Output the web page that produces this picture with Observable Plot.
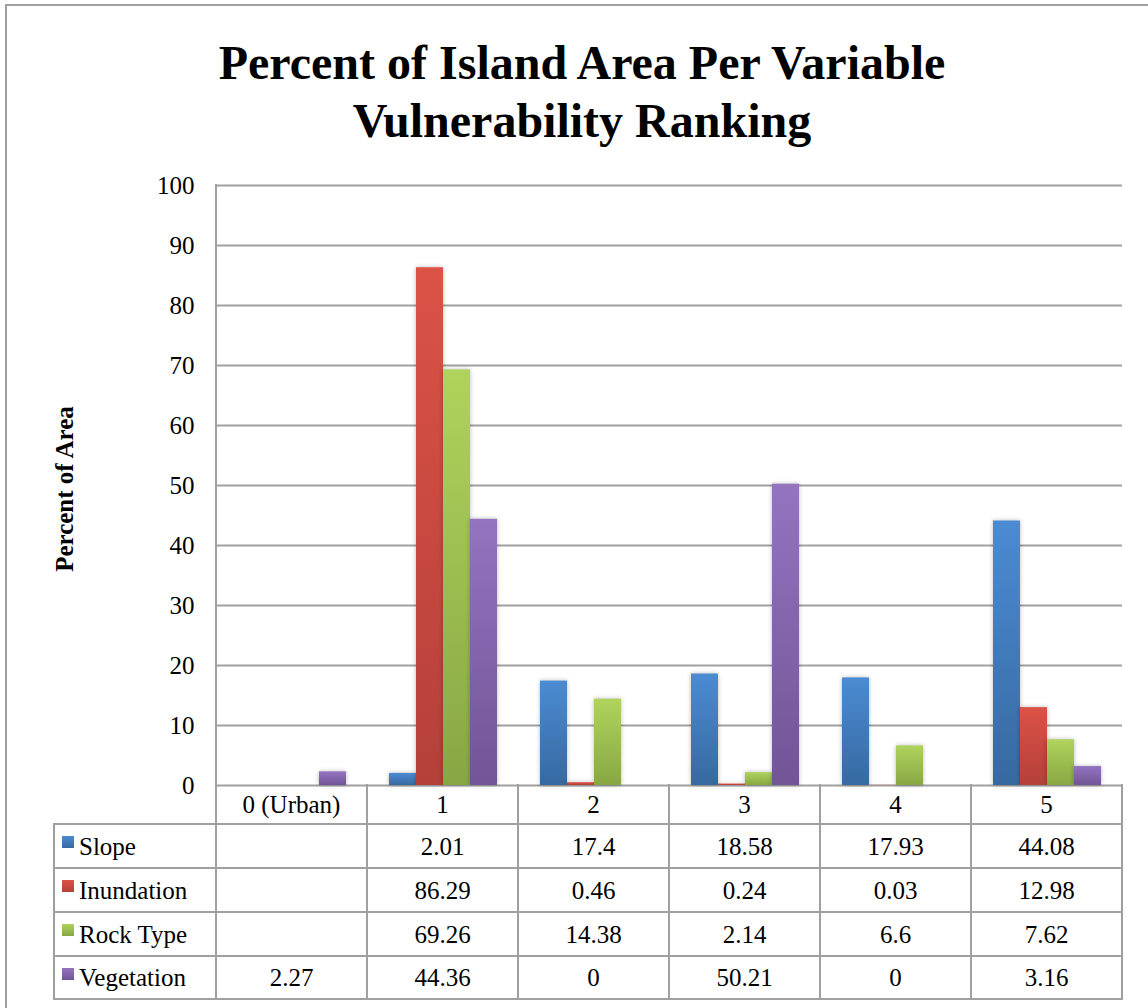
<!DOCTYPE html>
<html><head><meta charset="utf-8">
<script src="https://cdn.jsdelivr.net/npm/d3@7"></script>
<script src="https://cdn.jsdelivr.net/npm/@observablehq/plot@0.6"></script>
<style>
body{margin:0;background:#fff;overflow:hidden}
#wrap{position:relative;width:1148px;height:1008px;overflow:hidden;font-family:'Liberation Serif',serif;color:#000;background:#fff}
#wrap *{font-family:'Liberation Serif',serif}
#frame{position:absolute;left:5px;top:4px;width:1300px;height:1200px;border-left:2px solid #a0a0a0;border-top:2px solid #a0a0a0}
#title{position:absolute;left:0;top:34px;width:1164px;text-align:center;font-weight:bold;font-size:48px;line-height:58px}
#ylabel{position:absolute;left:65px;top:489px;transform:translate(-50%,-50%) rotate(-90deg);font-weight:bold;font-size:25px;white-space:nowrap}
.hl{position:absolute;height:2px;background:#a0a0a0}
.vl{position:absolute;width:2px;background:#a0a0a0}
.cell{position:absolute;font-size:25px;line-height:25px;display:flex;align-items:center;justify-content:center;white-space:nowrap;font-weight:normal}
.lab{position:absolute;font-size:25px;line-height:25px;display:flex;align-items:center;white-space:nowrap;font-weight:normal}
.sw{display:inline-block;width:12px;height:12px;margin-right:5px;position:relative;top:-4px}
svg{position:absolute;left:0;top:0}
svg text{font-family:'Liberation Serif',serif}
</style></head>
<body><div id="wrap"><div id="frame"></div></div>
<script>
const ranks = ["0 (Urban)", "1", "2", "3", "4", "5"];
const series = ["Slope", "Inundation", "Rock Type", "Vegetation"];
const slope = [null, 2.01, 17.4, 18.58, 17.93, 44.08];
const inundation = [null, 86.29, 0.46, 0.24, 0.03, 12.98];
const rockType = [null, 69.26, 14.38, 2.14, 6.6, 7.62];
const vegetation = [2.27, 44.36, 0, 50.21, 0, 3.16];
const yTicks = [0, 10, 20, 30, 40, 50, 60, 70, 80, 90, 100];
const colorTop = ["#4b8bd3", "#dc5246", "#afd35c", "#9473c0"];
const colorBottom = ["#3769a0", "#b4403a", "#88a744", "#715596"];
const titleLines = ["Percent of Island Area Per Variable", "Vulnerability Ranking"];
const yLabel = "Percent of Area";

const values = [slope, inundation, rockType, vegetation];
const rows = [];
ranks.forEach((r, i) => series.forEach((s, j) => {
  const v = values[j][i];
  if (v != null) rows.push({rank: r, series: s, value: v});
}));

const wrap = document.getElementById("wrap");

const plot = Plot.plot({
  width: 1148, height: 790,
  marginLeft: 215, marginRight: 26, marginTop: 185, marginBottom: 5,
  style: {fontFamily: "'Liberation Serif', serif", fontSize: "25px", color: "#000", background: "transparent", overflow: "visible"},
  fx: {domain: ranks, padding: 0, axis: null},
  x: {domain: series, paddingInner: 0, paddingOuter: 0.7, axis: null},
  y: {domain: [0, 100], axis: null},
  color: {domain: series, range: series.map((s, i) => `url(#grad${i})`)},
  marks: [
    Plot.gridY(yTicks, {stroke: "#a0a0a0", strokeOpacity: 1, strokeWidth: 2}),
    Plot.axisY(yTicks, {tickSize: 0, tickPadding: 22, label: null, fontSize: 25, fill: "#000"}),
    Plot.barY(rows, {fx: "rank", x: "series", y: "value", fill: "series"})
  ]
});
wrap.appendChild(plot);

const defs = d3.select(plot).insert("defs", ":first-child");
series.forEach((s, i) => {
  const g = defs.append("linearGradient").attr("id", `grad${i}`).attr("x1", 0).attr("y1", 0).attr("x2", 0).attr("y2", 1);
  g.append("stop").attr("offset", "0%").attr("stop-color", colorTop[i]);
  g.append("stop").attr("offset", "100%").attr("stop-color", colorBottom[i]);
});
d3.select(plot).selectAll("g[aria-label=bar] rect").style("filter", "drop-shadow(0px 0px 2px rgba(0,0,0,0.28))");

const title = document.createElement("div");
title.id = "title";
title.innerHTML = titleLines.join("<br>");
wrap.appendChild(title);
const yl = document.createElement("div");
yl.id = "ylabel";
yl.textContent = yLabel;
wrap.appendChild(yl);

const fxS = plot.scale("fx");
const yS = plot.scale("y");
const edges = ranks.map(r => fxS.apply(r));
edges.push(edges[edges.length - 1] + fxS.bandwidth);
const left = 54;
const top0 = yS.apply(0);
const rowY = [top0, top0 + 39, top0 + 83, top0 + 127, top0 + 171, top0 + 214];
const plotTop = yS.apply(100);

function line(cls, x, y, w, h) {
  const d = document.createElement("div");
  d.className = cls;
  d.style.left = (x - 1) + "px"; d.style.top = (y - 1) + "px";
  if (cls === "hl") d.style.width = (w + 2) + "px"; else d.style.height = (h + 2) + "px";
  wrap.appendChild(d);
}
line("vl", edges[0], plotTop, 0, top0 - plotTop);
for (let k = 1; k < rowY.length; k++) line("hl", left, rowY[k], edges[edges.length - 1] - left, 0);
line("vl", left, rowY[1], 0, rowY[5] - rowY[1]);
edges.forEach(x => line("vl", x, rowY[0], 0, rowY[5] - rowY[0]));

function cell(text, x0, x1, y0, y1) {
  const d = document.createElement("div");
  d.className = "cell";
  d.style.left = x0 + "px"; d.style.width = (x1 - x0) + "px";
  d.style.top = y0 + "px"; d.style.height = (y1 - y0) + "px";
  d.textContent = text;
  wrap.appendChild(d);
}
ranks.forEach((r, i) => cell(r, edges[i], edges[i + 1], rowY[0], rowY[1]));
series.forEach((s, j) => {
  const y0 = rowY[j + 1], y1 = rowY[j + 2];
  const lab = document.createElement("div");
  lab.className = "lab";
  lab.style.left = (left + 8) + "px"; lab.style.top = y0 + "px"; lab.style.height = (y1 - y0) + "px";
  const sw = document.createElement("span");
  sw.className = "sw";
  sw.style.background = `linear-gradient(${colorTop[j]}, ${colorBottom[j]})`;
  lab.appendChild(sw);
  lab.appendChild(document.createTextNode(s));
  wrap.appendChild(lab);
  ranks.forEach((r, i) => {
    const v = values[j][i];
    cell(v == null ? "" : String(v), edges[i], edges[i + 1], y0, y1);
  });
});
</script>
</body></html>
